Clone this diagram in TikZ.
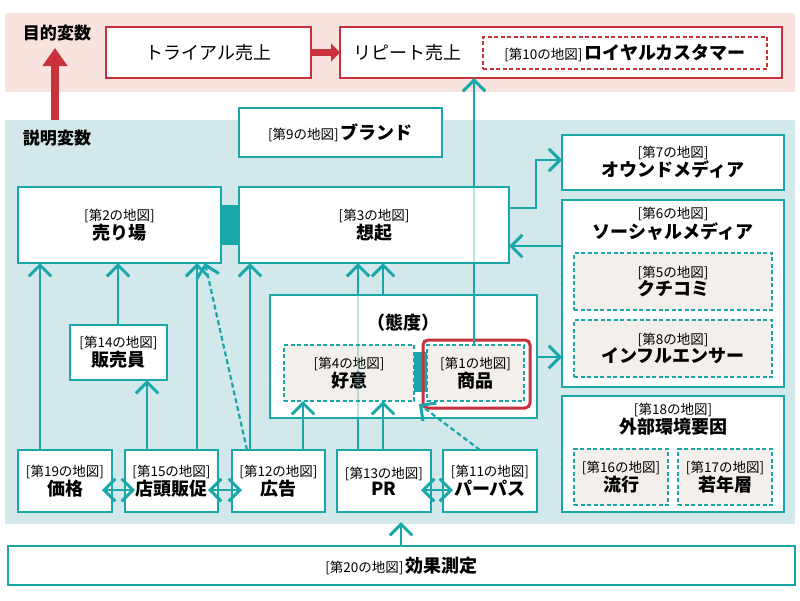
\documentclass[tikz,border=0pt]{standalone}
\usepackage{fontspec}
\setmainfont{Noto Sans CJK JP}
\usetikzlibrary{arrows.meta}
\definecolor{tealc}{HTML}{1AA7AA}
\definecolor{bandb}{HTML}{D3E8EA}
\definecolor{bandp}{HTML}{F9E3DF}
\definecolor{redc}{HTML}{C9323D}
\definecolor{dfill}{HTML}{F3EFEA}
\newcommand\lbl[1]{{\fontsize{13.5}{15}\selectfont[第#1の地図]}}
\newcommand\nm[1]{{\fontsize{18}{20}\selectfont\bfseries #1}}
\tikzset{
  box/.style={draw=tealc, line width=2.5pt, fill=white, inner sep=0pt, outer sep=0pt,
    anchor=north west, align=center, font=\linespread{0.9}\selectfont},
  dbox/.style={box, fill=dfill, dash pattern=on 4pt off 2.5pt, line width=2pt},
  rbox/.style={box, draw=redc},
  link/.style={tealc, line width=2.2pt},
  arr/.style={link, -{Straight Barb[length=7pt,width=14pt,line width=3pt,scale=1.6]}},
  barr/.style={link, {Straight Barb[length=7pt,width=14pt,line width=3pt,scale=1.6]}-{Straight Barb[length=7pt,width=14pt,line width=3pt,scale=1.6]}},
  dlink/.style={link, dash pattern=on 5pt off 3pt}
}
\begin{document}
\begin{tikzpicture}[x=1pt,y=-1pt]
  \useasboundingbox (0,0) rectangle (800,600);
  % bands
  \fill[bandp] (5,13) rectangle (795,92);
  \fill[bandb] (5,120) rectangle (795,524);
  \node[font=\fontsize{17}{20}\selectfont\bfseries] (goal) at (57,33) {目的変数};
  \node[font=\fontsize{17}{20}\selectfont\bfseries] (expl) at (57,138) {説明変数};
  % target row
  \node[rbox, minimum width=205, minimum height=51] (trial) at (106,27) {\fontsize{18}{20}\selectfont トライアル売上};
  \node[rbox, minimum width=442, minimum height=51] (repeat) at (340,27) {};
  \node[anchor=west, font=\fontsize{18}{20}\selectfont] (rlab) at (350,52.5) {リピート売上};
  \node[rbox, fill=white, dash pattern=on 4pt off 2.5pt, line width=2pt, minimum width=284, minimum height=32] (loyal) at (483,36.5) {\lbl{10} \nm{ロイヤルカスタマー}};
  \draw[redc, line width=7pt, -{Triangle[length=9pt,width=18pt]}] (trial.east) -- (repeat.west);
  \coordinate (up0) at (55,120);
  \draw[redc, line width=8pt, -{Triangle[length=18pt,width=24pt]}] (up0) -- (55,48);
  % explanatory boxes
  \node[box, minimum width=203, minimum height=49] (brand) at (239,108) {\lbl{9} \nm{ブランド}};
  \node[box, minimum width=222, minimum height=55] (owned) at (562,135) {\lbl{7}\\\nm{オウンドメディア}};
  \node[box, minimum width=203, minimum height=76] (shop) at (18,187) {\lbl{2}\\\nm{売り場}};
  \node[box, minimum width=270, minimum height=76] (recall) at (239,187) {\lbl{3}\\\nm{想起}};
  \fill[tealc] (221,205) rectangle (239,245);
  \node[box, minimum width=222, minimum height=187, align=center] (social) at (562,200) {};
  \node[anchor=north, align=center, font=\linespread{0.9}\selectfont] (slab) at (673,204) {\lbl{6}\\\nm{ソーシャルメディア}};
  \node[dbox, minimum width=198, minimum height=57] (kuchi) at (574,253) {\lbl{5}\\\nm{クチコミ}};
  \node[dbox, minimum width=198, minimum height=57] (infl) at (574,320) {\lbl{8}\\\nm{インフルエンサー}};
  \node[box, minimum width=222, minimum height=116] (extern) at (562,396) {};
  \node[anchor=north, align=center, font=\linespread{0.9}\selectfont] (elab) at (673,400) {\lbl{18}\\\nm{外部環境要因}};
  \node[dbox, minimum width=94, minimum height=56] (trend) at (574,449) {\lbl{16}\\\nm{流行}};
  \node[dbox, minimum width=94, minimum height=56] (young) at (678,449) {\lbl{17}\\\nm{若年層}};
  \node[box, minimum width=97, minimum height=55] (staff) at (70,325) {\lbl{14}\\\nm{販売員}};
  % attitude
  \node[box, minimum width=267, minimum height=123] (att) at (270,295) {};
  \node[font=\fontsize{18}{20}\selectfont\bfseries] (attlab) at (403,323) {（態度）};
  \node[dbox, minimum width=130, minimum height=56] (fav) at (284,345) {\lbl{4}\\\nm{好意}};
  \node[dbox, minimum width=97, minimum height=56] (prod) at (427,345) {\lbl{1}\\\nm{商品}};
  \fill[tealc] (414,352) rectangle (427,392);
  \draw[redc, line width=3pt, rounded corners=5pt] (423,340) rectangle (530,408);
  % bottom row
  \node[box, minimum width=94, minimum height=62] (price) at (18,450) {\lbl{19}\\\nm{価格}};
  \node[box, minimum width=93, minimum height=62] (promo) at (125,450) {\lbl{15}\\\nm{店頭販促}};
  \node[box, minimum width=93, minimum height=62] (ad) at (232,450) {\lbl{12}\\\nm{広告}};
  \node[box, minimum width=94, minimum height=62] (pr) at (337,450) {\lbl{13}\\\nm{PR}};
  \node[box, minimum width=94, minimum height=62] (purp) at (443,450) {\lbl{11}\\\nm{パーパス}};
  \node[box, minimum width=787, minimum height=39] (eval) at (8,546) {\lbl{20} \nm{効果測定}};
  % connectors
  \draw[arr] (price.north -| 40,0) -- (shop.south -| 40,0);
  \draw[arr] (staff.north -| 118,0) -- (shop.south -| 118,0);
  \draw[arr] (promo.north -| 147,0) -- (staff.south -| 147,0);
  \draw[arr] (promo.north -| 197,0) -- (shop.south -| 197,0);
  \draw[arr, dash pattern=on 5pt off 3pt] (ad.north -| 247,0) -- (shop.south -| 205,0);
  \draw[arr] (ad.north -| 250,0) -- (recall.south -| 250,0);
  \draw[arr] (ad.north -| 303,0) -- (fav.south -| 303,0);
  \draw[arr] (pr.north -| 383,0) -- (fav.south -| 383,0);
  \draw[link] (pr.north -| 358,0) -- (att.south -| 358,0);
  \draw[link, opacity=0.3] (att.south -| 358,0) -- (att.north -| 358,0);
  \draw[arr] (att.north -| 358,0) -- (recall.south -| 358,0);
  \draw[arr] (att.north -| 383,0) -- (recall.south -| 383,0);
  \draw[link] (prod.north -| 474,0) -- (recall.south -| 474,0);
  \draw[link, opacity=0.3] (recall.south -| 474,0) -- (recall.north -| 474,0);
  \draw[arr] (recall.north -| 474,0) -- (repeat.south -| 474,0);
  \draw[arr, dash pattern=on 5pt off 3pt] (purp.north -| 480,0) -- (419,404);
  \draw[barr] (price.east |- 0,490) ++(-10,0) -- ([xshift=10pt]promo.west |- 0,490);
  \draw[barr] (promo.east |- 0,490) ++(-10,0) -- ([xshift=10pt]ad.west |- 0,490);
  \draw[barr] (pr.east |- 0,490) ++(-10,0) -- ([xshift=10pt]purp.west |- 0,490);
  \draw[arr] (recall.east |- 0,208) -| (536,160) -- (owned.west |- 0,160);
  \draw[arr] (social.west |- 0,246) -- (recall.east |- 0,246);
  \draw[arr] (att.east |- 0,357) -- (social.west |- 0,357);
  \draw[arr] (eval.north -| 401,0) -- (401,522);
\end{tikzpicture}
\end{document}
